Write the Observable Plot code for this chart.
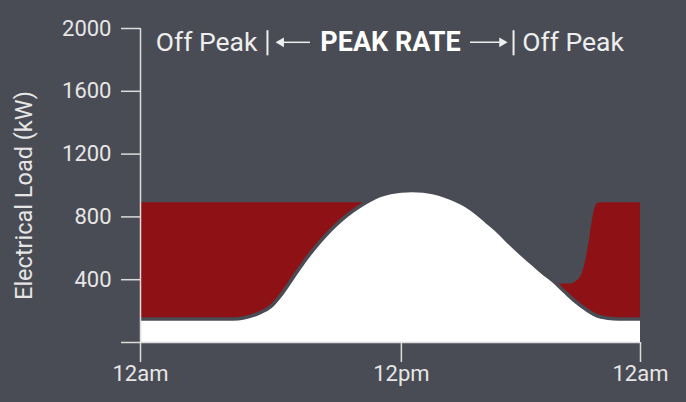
<!DOCTYPE html>
<html><head><meta charset="utf-8">
<script src="https://cdn.jsdelivr.net/npm/d3@7"></script>
<script src="https://cdn.jsdelivr.net/npm/@observablehq/plot@0.6"></script>
<style>
html,body{margin:0;padding:0;background:#494c54;}
#chart svg{display:block;}
</style></head><body><div id="chart"></div>
<script>
// Load profile (hour of day -> kW)
const hours = [0,1,2,3,4,4.5,5,5.5,6,6.5,7,7.5,8,8.5,9,9.5,10,10.5,11,11.5,12,12.5,13,13.5,14,14.5,15,15.5,16,16.5,17,17.5,18,18.5,19,19.5,20,20.5,21,21.5,22,23];
const load  = [150,150,150,150,150,152,165,190,230,310,410,510,600,680,750,810,860,902,935,955,965,968,965,953,932,905,870,820,760,700,630,565,505,445,390,325,262,210,170,155,150,150];

// Off-peak (red) bands: top edge
const amBandHours = [0, 11];
const amBandTop   = [890, 890];
const pmBandHours = [19.17, 19.7, 20.01, 20.32, 20.55, 20.70, 20.85, 21.01, 21.2, 23];
const pmBandTop   = [371, 372, 386, 440, 568, 696, 824, 883, 890, 890];

// Axes
const xTicks = [0, 12, 23];
const xTickLabels = ["12am", "12pm", "12am"];
const yTicks = [0, 400, 800, 1200, 1600, 2000];
const yLabel = "Electrical Load (kW)";

// Rate annotation
const bandLabels = ["Off Peak", "PEAK RATE", "Off Peak"];
const bandLabelHours = [3.04, 11.5, 19.9];
const bandLabelBold = [false, true, false];
const bandLabelY = 1911;
const bandEdges = [5.84, 17.16];
const bandEdgeTop = 1986, bandEdgeBottom = 1826;
const arrowStart = [7.82, 15.18];
const arrowEnd = [6.35, 16.75];
const arrowY = 1912;

const bg = "#494c54";
const red = "#8e1215";
const axisColor = "#dcdcdc";

const loadData = hours.map((h, i) => ({h, v: load[i]}));
const amData = amBandHours.map((h, i) => ({h, v: amBandTop[i]}));
const pmData = pmBandHours.map((h, i) => ({h, v: pmBandTop[i]}));
const labelData = bandLabels.map((t, i) => ({t, h: bandLabelHours[i], bold: bandLabelBold[i]}));
const arrows = arrowStart.map((s, i) => ({s, e: arrowEnd[i], dir: Math.sign(arrowEnd[i] - s)}));

const chart = Plot.plot({
  width: 686,
  height: 402,
  marginLeft: 140,
  marginRight: 46,
  marginTop: 28,
  marginBottom: 60,
  style: {background: bg, color: "#e6e6e6", fontFamily: "Roboto, sans-serif", fontSize: "22px", overflow: "visible"},
  x: {domain: [0, 23]},
  y: {domain: [0, 2000]},
  marks: [
    Plot.areaY(amData, {x: "h", y: "v", fill: red}),
    Plot.areaY(pmData, {x: "h", y: "v", fill: red, curve: "monotone-x"}),
    Plot.areaY(loadData, {x: "h", y: "v", fill: "#ffffff", curve: "monotone-x"}),
    Plot.lineY(loadData, {x: "h", y: "v", stroke: bg, strokeWidth: 3.5, curve: "monotone-x"}),
    Plot.ruleX([0], {y1: 0, y2: 2000, stroke: axisColor, strokeWidth: 1.5}),
    Plot.ruleY([0], {x1: 0, x2: 23, stroke: axisColor, strokeWidth: 1.5}),
    Plot.axisY({ticks: yTicks, tickFormat: d => d === 0 ? "" : String(d), tickSize: 19, tickPadding: 10,
      stroke: axisColor, strokeWidth: 1.5, label: null, fontSize: 22}),
    Plot.axisX({ticks: xTicks, tickFormat: d => xTickLabels[xTicks.indexOf(d)], tickSize: 20, tickPadding: 3,
      stroke: axisColor, strokeWidth: 1.5, label: null, fontSize: 22}),
    Plot.text([yLabel], {frameAnchor: "left", textAnchor: "middle", lineAnchor: "middle", rotate: -90, dx: -116, dy: 10, fontSize: 23.5, fill: "#e6e6e6"}),
    // rate annotation
    Plot.text(labelData.filter(d => !d.bold), {x: "h", y: bandLabelY, text: "t", fontSize: 26.5, fill: "#eeeeee"}),
    Plot.text(labelData.filter(d => d.bold), {x: "h", y: bandLabelY, text: "t", fontSize: 27, fontWeight: "bold", fill: "#ffffff", letterSpacing: "1px"}),
    Plot.ruleX(bandEdges, {y1: bandEdgeBottom, y2: bandEdgeTop, stroke: "#eeeeee", strokeWidth: 2}),
    Plot.ruleY(arrows, {x1: "s", x2: "e", y: arrowY, stroke: "#eeeeee", strokeWidth: 1.5}),
    Plot.dot(arrows, {x: d => d.e - d.dir * 0.12, y: arrowY, symbol: "triangle", r: 3.6, fill: "#eeeeee", stroke: null,
      rotate: d => d.dir > 0 ? 90 : -90})
  ]
});
document.getElementById("chart").appendChild(chart);
</script>
</body></html>
